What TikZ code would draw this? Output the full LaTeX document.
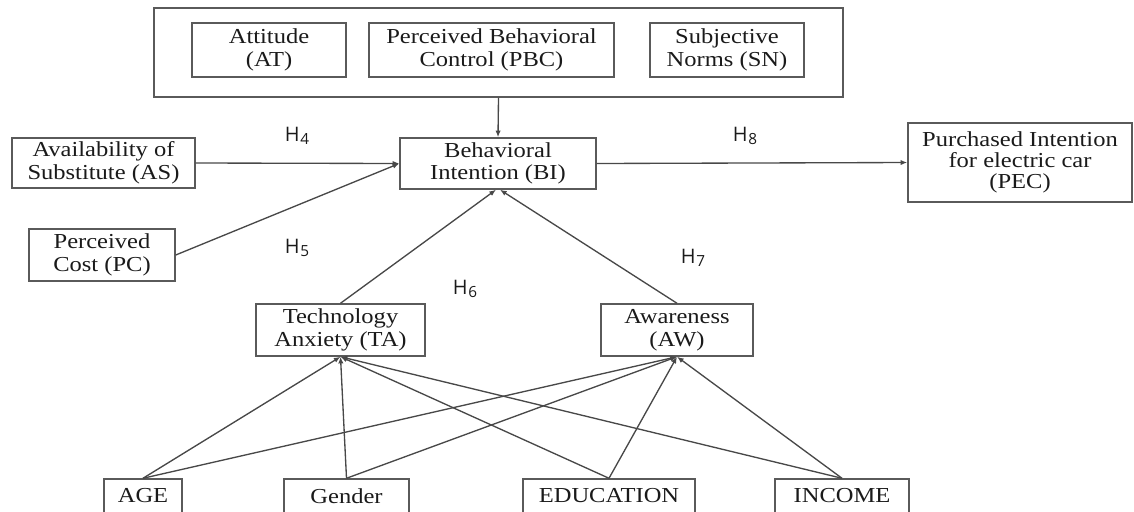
\documentclass[tikz,border=0pt]{standalone}
\usepackage{fontspec}
\setmainfont{Liberation Serif}[FakeStretch=1.15]
\newfontfamily\hfont{Open Sans}
\usetikzlibrary{arrows.meta}
\definecolor{boxc}{HTML}{5a5a5a}
\definecolor{linec}{HTML}{484848}
\definecolor{txt}{HTML}{1a1a1a}
\newcommand{\hlab}[1]{H\kern0.4pt\raisebox{-2pt}{\fontsize{11.5}{11.5}\selectfont #1}}
\def\p{0.75pt}
\begin{document}
\begin{tikzpicture}[x=0.75pt,y=-0.75pt,
  box/.style={draw=boxc, line width=1.1pt, text=txt, align=center, inner sep=0pt,
    font=\fontsize{16}{17}\selectfont},
  conn/.style={draw=linec, line width=1pt},
  arr/.style={conn, -{Latex[length=5pt,width=4pt]}},
  hyp/.style={text=txt, font=\hfont\fontsize{15}{15}\selectfont, inner sep=0pt}]
\useasboundingbox (0,0) rectangle (1134,511);
\clip (0,0) rectangle (1134,511);
% top group
\node[box, minimum width=689*\p, minimum height=89*\p] (top) at (498.5,52.5) {};
\node[box, minimum width=154*\p, minimum height=54*\p] (at) at (269,50) {Attitude\\(AT)};
\node[box, minimum width=245*\p, minimum height=54*\p] (pbc) at (491.5,50) {Perceived Behavioral\\Control (PBC)};
\node[box, minimum width=154*\p, minimum height=54*\p] (sn) at (727,50) {Subjective\\Norms (SN)};
% middle
\node[box, minimum width=196*\p, minimum height=51*\p] (bi) at (498,163.5) {Behavioral\\Intention (BI)};
\node[box, minimum width=183*\p, minimum height=50*\p] (as) at (103.5,163) {Availability of\\Substitute (AS)};
\node[box, minimum width=146*\p, minimum height=52*\p] (pc) at (102,255) {Perceived\\Cost (PC)};
\node[box, minimum width=224*\p, minimum height=79*\p, font=\fontsize{16}{15.5}\selectfont] (pec) at (1020,162.5) {Purchased Intention\\for electric car\\(PEC)};
\node[box, minimum width=169*\p, minimum height=52*\p] (ta) at (340.5,330) {Technology\\Anxiety (TA)};
\node[box, minimum width=152*\p, minimum height=52*\p] (aw) at (677,330) {Awareness\\(AW)};
% bottom
\node[box, minimum width=78*\p, minimum height=34*\p] (age) at (143,496) {AGE};
\node[box, minimum width=125*\p, minimum height=34*\p] (gen) at (346.5,496) {Gender};
\node[box, minimum width=172*\p, minimum height=34*\p] (edu) at (609,496) {EDUCATION};
\node[box, minimum width=134*\p, minimum height=34*\p] (inc) at (842,496) {INCOME};
% hypothesis labels
\node[hyp] (h4) at (297,136) {\hlab{4}};
\node[hyp] (h5) at (297,248) {\hlab{5}};
\node[hyp] (h6) at (465,289) {\hlab{6}};
\node[hyp] (h7) at (693,258) {\hlab{7}};
\node[hyp] (h8) at (745,136) {\hlab{8}};
% connectors
\draw[arr] (top.south) -- (bi.north);
\draw[arr] (as.east) -- (bi.west);
\draw[arr] (pc.east) -- (bi.west);
\draw[arr] (bi.east) -- (pec.west);
\draw[arr] (ta.north) -- ([xshift=-2*\p]bi.south);
\draw[arr] (aw.north) -- ([xshift=2*\p]bi.south);
\foreach \s in {age,gen,edu,inc}{
  \draw[arr] (\s.north) -- (ta.south);
  \draw[arr] (\s.north) -- (aw.south);
}
\end{tikzpicture}
\end{document}
